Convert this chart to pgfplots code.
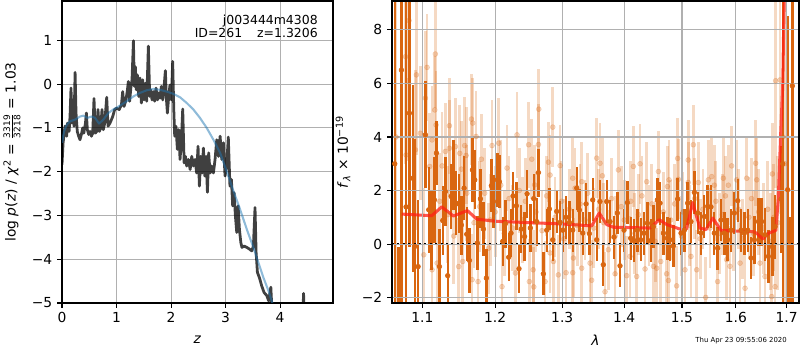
\documentclass[border=0pt]{standalone}
\usepackage{fontspec}
\setmainfont{DejaVu Sans}
\usepackage{pgfplots}
\usepackage{pgfplotstable}
\pgfplotsset{compat=1.18}
\definecolor{dkor}{RGB}{217,102,16}
\definecolor{gridc}{HTML}{B0B0B0}
\definecolor{pzblue}{RGB}{31,119,180}
\definecolor{modred}{RGB}{255,30,20}

\pgfplotstableread{
x y
0 -1.84
0.02 -1.34
0.055 -0.96
0.086 -1.19
0.10 -0.89
0.13 -1.08
0.147 -0.74
0.165 -0.09
0.183 -0.89
0.20 -0.36
0.22 -0.96
0.24 0.27
0.257 -0.66
0.28 -1.08
0.306 -1.19
0.33 -1.27
0.355 -1.15
0.38 -1.00
0.40 -1.12
0.43 -0.89
0.447 -0.66
0.465 -1.04
0.49 -1.15
0.514 -1.08
0.54 -1.19
0.563 -1.12
0.587 -0.33
0.61 -1.12
0.636 -1.08
0.66 -0.58
0.685 -1.08
0.71 -1.00
0.734 -0.58
0.758 -1.04
0.783 -0.89
0.82 -0.30
0.844 -0.96
0.88 -0.89
0.93 -0.74
0.966 -0.58
1.00 -0.55
1.05 -0.58
1.09 -0.47
1.113 -0.17
1.138 -0.51
1.174 -0.36
1.20 -0.13
1.217 0.06
1.24 -0.39
1.266 -0.05
1.284 0.10
1.31 0.99
1.327 -0.05
1.345 0.40
1.364 -0.13
1.382 0.21
1.407 -0.28
1.43 0.14
1.456 -0.43
1.48 0.10
1.505 -0.36
1.53 0.02
1.553 -0.39
1.584 0.87
1.608 -0.28
1.627 -0.13
1.651 -0.36
1.676 -0.17
1.70 -0.39
1.725 -0.09
1.75 -0.36
1.774 -0.20
1.798 -0.32
1.823 -0.05
1.847 -0.36
1.87 -0.09
1.896 0.31
1.914 -0.32
1.933 -0.66
1.957 -0.28
1.98 -0.02
2.006 -0.36
2.03 0.52
2.05 -0.58
2.067 -1.19
2.09 -0.96
2.116 -1.49
2.14 -1.04
2.165 -1.72
2.19 -1.27
2.214 -0.57
2.24 -1.80
2.263 -1.65
2.287 -1.87
2.318 -1.72
2.35 -1.95
2.38 -1.65
2.41 -1.87
2.44 -1.72
2.47 -2.03
2.495 -1.42
2.52 -2.33
2.544 -1.65
2.57 -2.03
2.593 -1.46
2.618 -2.10
2.642 -1.65
2.667 -2.47
2.69 -1.57
2.716 -2.03
2.74 -1.87
2.777 -2.03
2.807 -1.72
2.838 -1.27
2.87 -1.65
2.90 -1.19
2.93 -1.72
2.96 -1.34
2.99 -2.10
3.02 -1.87
3.05 -1.21
3.08 -2.33
3.107 -2.18
3.13 -2.78
3.156 -2.48
3.18 -3.01
3.205 -3.39
3.23 -2.78
3.254 -3.32
3.28 -3.62
3.30 -3.73
3.34 -3.70
3.39 -3.73
3.44 -3.77
3.48 -3.81
3.51 -3.70
3.54 -2.82
3.56 -3.85
3.584 -4.30
3.62 -4.42
3.663 -4.61
3.706 -4.76
3.755 -4.83
3.79 -4.95
3.83 -4.64
3.85 -5.14
3.88 -5.5
}\pzdata

\pgfplotstableread{
x y
0 -1.34
0.037 -1.08
0.086 -0.93
0.147 -0.85
0.24 -0.81
0.33 -0.74
0.39 -0.72
0.465 -0.77
0.544 -0.74
0.606 -0.77
0.68 -0.90
0.758 -0.81
0.85 -0.66
0.94 -0.58
1.064 -0.49
1.187 -0.39
1.31 -0.28
1.43 -0.20
1.553 -0.14
1.676 -0.11
1.80 -0.13
1.92 -0.17
2.04 -0.22
2.165 -0.30
2.287 -0.43
2.41 -0.58
2.53 -0.77
2.654 -1.00
2.777 -1.27
2.90 -1.57
3.02 -1.99
3.144 -2.44
3.266 -2.86
3.39 -3.32
3.51 -3.73
3.60 -4.07
3.694 -4.42
3.786 -4.72
3.847 -4.95
3.88 -5.10
}\pzsmooth

\pgfplotstableread{
x y e
1.0643 3.0 20
1.0690 -3.5 3.4
1.0728 6.5 10
1.0788 1.39 8
1.0831 4.89 5
1.0874 2.46 3.5
1.0900 -0.09 4
1.0944 -0.84 2.5
1.1040 4.08 2.0
1.1084 1.28 1.6
1.1119 0.53 1.5
1.1159 1.65 1.6
1.1186 3.40 1.2
1.1226 -0.84 1.4
1.1271 0.88 1.3
1.1307 1.96 1.3
1.1338 -1.18 1.2
1.1384 1.78 1.2
1.1415 2.59 1.3
1.1452 1.53 1.2
1.1488 1.50 1.1
1.1525 0.71 1.1
1.1562 2.09 1.2
1.1599 0.37 1.0
1.1636 -0.61 1.2
1.1678 2.77 1.2
1.1710 2.40 1.1
1.1747 0.04 1.0
1.1790 1.69 1.1
1.1832 0.56 1.0
1.1874 -1.27 1.1
1.1945 2.18 1.0
1.1974 1.59 1.0
1.2031 2.40 1.0
1.2060 2.33 1.0
1.2108 0.10 0.9
1.2147 0.76 0.9
1.2195 -0.49 0.9
1.2229 0.41 0.9
1.2258 1.80 0.9
1.2307 1.43 0.9
1.2346 -0.92 0.9
1.2380 0.56 0.9
1.2429 0.28 0.9
1.2466 1.88 0.9
1.2515 0.60 0.9
1.2565 1.70 0.9
1.2610 0.84 0.9
1.2636 2.67 0.9
1.2711 -1.11 0.8
1.2762 0.52 0.8
1.2803 1.31 0.8
1.2854 0.16 0.8
1.2915 1.22 0.8
1.2967 0.81 0.8
1.3008 0.52 0.8
1.3060 1.00 0.8
1.3112 0.81 0.8
1.3165 0.52 0.8
1.3228 2.09 0.8
1.3270 1.27 0.8
1.3323 0.41 0.8
1.3376 1.50 0.8
1.3429 0.39 0.8
1.3483 1.65 0.8
1.3547 0.16 0.8
1.3601 1.59 0.8
1.3655 -0.77 0.8
1.3710 1.59 0.8
1.3765 0.84 0.8
1.3831 0.26 0.8
1.3886 1.16 0.8
1.3930 -0.81 0.8
1.3997 0.52 0.8
1.4053 1.55 0.8
1.4109 0.22 0.8
1.4165 0.13 0.8
1.4222 0.52 0.8
1.4279 0.16 0.8
1.4336 0.41 0.8
1.4393 0.78 0.8
1.4451 0.13 0.8
1.4497 0.65 0.8
1.4566 1.65 0.8
1.4613 1.53 0.8
1.4671 0.41 0.8
1.4741 0.22 0.8
1.4787 0.16 0.8
1.4847 -0.07 0.8
1.4924 1.68 0.8
1.4983 0.41 0.8
1.5043 0.52 0.8
1.5103 1.53 0.8
1.5163 0.84 0.8
1.5224 1.93 0.8
1.5285 1.16 0.8
1.5346 0.41 0.8
1.5407 1.03 0.8
1.5468 1.41 0.8
1.5530 1.39 0.8
1.5592 0.41 0.8
1.5654 -0.15 0.8
1.5717 0.90 0.8
1.5780 0.41 0.8
1.5843 0.16 0.8
1.5906 0.52 0.8
1.5970 1.16 0.8
1.6034 1.62 0.8
1.6098 0.52 0.8
1.6162 0.41 0.8
1.6227 0.52 0.8
1.6291 -0.52 0.8
1.6356 0.16 0.9
1.6434 0.84 0.9
1.6500 0.84 0.9
1.6565 0.35 1.0
1.6631 -0.46 1.0
1.6711 -0.10 1.1
1.6764 0.65 1.2
1.6885 1.68 2.0
1.6920 3.0 12
1.7020 2.03 6.5
1.7070 -4.0 5.0
1.7115 5.91 12
}\darkdata

\pgfplotstableread{
x y e
1.0660 4.0 8
1.0781 7.00 4
1.0826 8.35 3
1.0817 6.10 3
1.0788 3.33 3.5
1.0909 3.52 3
1.0922 6.32 3
1.0974 4.14 2.5
1.1018 -0.40 2.5
1.1040 5.45 2.5
1.1062 6.60 2
1.1097 2.90 2
1.1128 3.89 2
1.1128 -0.96 2
1.1164 5.01 2
1.1172 7.10 2
1.1181 4.45 2
1.1195 -0.71 2
1.1230 1.60 1.8
1.1262 2.92 2
1.1307 3.46 1.8
1.1340 1.10 1.8
1.1361 4.42 1.8
1.1361 3.58 1.8
1.1420 0.30 1.8
1.1443 3.64 1.8
1.1488 -0.84 1.8
1.1502 3.39 1.8
1.1525 2.80 1.8
1.1543 -0.65 1.8
1.1571 3.68 1.8
1.1590 3.31 1.8
1.1600 1.90 1.8
1.1664 4.67 1.7
1.1673 -1.33 1.7
1.1682 4.52 1.7
1.1700 0.80 1.7
1.1729 4.02 1.7
1.1757 -1.40 1.7
1.1780 1.40 1.7
1.1804 3.17 1.7
1.1850 1.90 1.7
1.1907 -0.15 1.7
1.1930 0.90 1.7
1.1955 3.68 1.7
1.2000 1.20 1.7
1.2050 3.77 1.7
1.2080 2.20 1.7
1.2098 -1.59 1.7
1.2130 0.40 1.6
1.2171 2.84 1.6
1.2200 1.70 1.6
1.2250 0.60 1.6
1.2293 -1.08 1.6
1.2317 4.08 1.6
1.2350 2.00 1.6
1.2400 0.90 1.6
1.2440 1.60 1.6
1.2489 3.71 1.6
1.2499 -1.40 1.6
1.2536 3.17 1.5
1.2557 -0.96 1.5
1.2566 -1.60 1.5
1.2578 2.21 1.5
1.2600 1.20 1.5
1.2636 3.72 1.5
1.2641 5.04 1.5
1.2690 0.50 1.5
1.2737 -1.40 1.5
1.2760 1.80 1.5
1.2788 3.06 1.5
1.2813 2.58 1.5
1.2813 -0.33 1.5
1.2854 4.37 1.5
1.2864 -0.65 1.5
1.2890 1.00 1.5
1.2941 -1.15 1.5
1.2967 2.93 1.5
1.2990 1.60 1.5
1.3030 0.20 1.5
1.3060 -1.07 1.5
1.3110 1.30 1.5
1.3165 2.46 1.5
1.3165 -1.07 1.5
1.3175 -0.52 1.5
1.3202 2.09 1.5
1.3240 0.70 1.5
1.3280 1.50 1.5
1.3307 2.33 1.5
1.3307 -0.90 1.5
1.3360 0.90 1.5
1.3400 1.90 1.5
1.3440 -0.71 1.5
1.3467 -1.35 1.5
1.3500 0.60 1.5
1.3547 3.21 1.5
1.3580 1.30 1.5
1.3601 3.02 1.5
1.3639 2.55 1.5
1.3660 0.80 1.5
1.3683 -1.78 1.5
1.3737 -0.21 1.5
1.3790 1.70 1.5
1.3848 -1.11 1.5
1.3850 0.30 1.5
1.3903 2.77 1.5
1.3950 1.40 1.5
1.4000 0.90 1.5
1.4042 -1.18 1.5
1.4098 -0.46 1.5
1.4110 1.60 1.5
1.4154 2.90 1.5
1.4180 0.40 1.5
1.4211 -1.21 1.5
1.4240 1.10 1.5
1.4268 3.00 1.5
1.4300 1.80 1.5
1.4353 -0.93 1.5
1.4382 2.33 1.5
1.4420 0.70 1.5
1.4470 1.50 1.5
1.4497 -0.83 1.5
1.4530 0.10 1.5
1.4555 -0.90 1.5
1.4584 2.71 1.5
1.4625 -0.65 1.5
1.4670 1.20 1.5
1.4729 -1.11 1.5
1.4741 2.15 1.5
1.4760 -1.36 1.5
1.4770 2.40 1.5
1.4800 0.90 1.5
1.4870 1.50 1.5
1.4906 -1.56 1.5
1.4924 3.20 1.5
1.4936 2.42 1.5
1.4990 0.30 1.5
1.5020 1.20 1.5
1.5055 -0.96 1.5
1.5113 3.14 1.5
1.5113 2.30 1.5
1.5140 0.70 1.5
1.5163 -0.46 1.5
1.5206 3.71 1.5
1.5230 1.70 1.5
1.5267 -0.96 1.5
1.5297 2.30 1.5
1.5330 0.20 1.5
1.5380 1.30 1.5
1.5432 -1.99 1.5
1.5481 2.40 1.5
1.5510 0.60 1.5
1.5543 2.52 1.5
1.5592 2.20 1.5
1.5620 1.60 1.5
1.5654 -1.40 1.5
1.5690 0.40 1.5
1.5740 1.10 1.5
1.5761 2.46 1.5
1.5800 1.80 1.5
1.5824 -0.58 1.5
1.5856 2.20 1.5
1.5887 -0.83 1.5
1.5919 2.92 1.5
1.5950 0.50 1.5
1.6015 2.40 1.5
1.6050 1.30 1.5
1.6079 -0.71 1.5
1.6130 0.20 1.5
1.6175 -1.65 1.5
1.6207 2.46 1.5
1.6250 1.00 1.5
1.6300 1.70 1.5
1.6340 0.40 1.6
1.6382 3.02 1.6
1.6402 2.40 1.6
1.6440 1.20 1.6
1.6467 -0.71 1.7
1.6530 0.60 1.7
1.6565 -1.21 1.7
1.6620 1.30 1.8
1.6680 0.10 1.8
1.6698 -1.96 1.9
1.6711 2.62 1.9
1.6740 1.00 2.0
1.6764 -1.59 2.0
1.6777 6.10 4
1.6820 0.80 2.5
1.6865 6.13 5
1.6925 4.0 9
1.6960 3.0 8
}\lightdata

\pgfplotstableread{
x y
1.0733 1.12
1.1124 1.06
1.1257 1.39
1.1415 1.05
1.1608 1.25
1.1739 0.93
1.2023 0.85
1.3017 0.75
1.3467 0.68
1.3589 1.16
1.3710 0.73
1.3820 0.63
1.4440 0.60
1.4600 0.91
1.4730 0.73
1.4966 0.56
1.5082 0.56
1.5193 1.55
1.5325 0.60
1.5437 0.54
1.5564 0.97
1.5717 0.51
1.6335 0.46
1.6400 0.41
1.6520 0.19
1.6640 0.41
1.6780 0.51
1.6830 1.65
1.6880 4.14
1.6920 6.00
1.6940 8.20
1.6960 10.0
}\modeldata

\pgfplotsset{
  mpl/.style={
    scale only axis, anchor=south west,
    tick align=outside, major tick length=3.5pt,
    xtick pos=bottom, ytick pos=left,
    grid=major, major grid style={gridc, line width=0.8pt},
    axis line style={line width=0.8pt},
    every tick/.style={black, line width=0.8pt},
    tick label style={font=\fontsize{10}{12}\selectfont},
    label style={font=\fontsize{10}{12}\selectfont},
    minor tick num=0,
  }
}

\begin{document}
\begin{tikzpicture}
\path[use as bounding box] (0,0) rectangle (578.16pt,252.95pt);

% left panel
\begin{axis}[mpl,
  at={(44.81pt,33.97pt)}, width=195.85pt, height=218.26pt,
  xmin=0, xmax=4.97, ymin=-5, ymax=1.9,
  xtick={0,1,2,3,4}, xticklabels={0,1,2,3,4},
  ytick={-5,-4,-3,-2,-1,0,1}, yticklabels={−5,−4,−3,−2,−1,0,1},
  xlabel={\textit{z}},
  ylabel={log \textit{p}(\textit{z}) / \textit{χ}\textsuperscript{2} = $\frac{\hbox{\fontsize{6.5}{7}\selectfont 3319}}{\hbox{\fontsize{6.5}{7}\selectfont 3218}}$ = 1.03},
  xlabel style={at={(axis description cs:0.5,-0.1225)}, anchor=center},
  ylabel style={at={(axis description cs:-0.1845,0.5)}, anchor=center},
]
\addplot[black, opacity=0.75, line width=2pt, line join=round] table[x=x,y=y] {\pzdata};
\addplot[black, opacity=0.75, line width=2pt, line join=round] coordinates {(4.40,-6) (4.43,-4.78) (4.46,-6)};
\addplot[pzblue, opacity=0.5, line width=1.5pt, line join=round] table[x=x,y=y] {\pzsmooth};
\node[anchor=base east, inner sep=0pt, font=\fontsize{9}{10}\selectfont] at (axis description cs:0.9446,0.9238) {j003444m4308};
\node[anchor=base east, inner sep=0pt, font=\fontsize{9}{10}\selectfont] at (axis description cs:0.9446,0.8775) {ID=261\hspace{1.2em}z=1.3206};
\end{axis}

% right panel
\begin{axis}[mpl,
  at={(283.30pt,33.97pt)}, width=294.14pt, height=218.26pt,
  xmode=log, xmin=1.0608, xmax=1.7253, ymin=-2.2, ymax=9.08,
  xtick={1.1,1.2,1.3,1.4,1.5,1.6,1.7}, xticklabels={1.1,1.2,1.3,1.4,1.5,1.6,1.7},
  minor xtick={},
  ytick={-2,0,2,4,6,8}, yticklabels={−2,0,2,4,6,8},
  axis on top,
  xlabel={\textit{λ}},
  ylabel={\textit{f}\textsubscript{\textit{λ}} × 10\textsuperscript{−19}},
  xlabel style={at={(axis description cs:0.5,-0.1225)}, anchor=center},
  ylabel style={at={(axis description cs:-0.1204,0.5)}, anchor=center},
]
\addplot[only marks, mark=*, mark size=1.8pt, dkor, opacity=0.25,
  error bars/.cd, y dir=both, y explicit, error mark=none,
  error bar style={line width=2pt, opacity=0.25}]
  table[x=x, y=y, y error=e] {\lightdata};
\addplot[only marks, mark=*, mark size=1.7pt, dkor,
  error bars/.cd, y dir=both, y explicit, error mark=none,
  error bar style={line width=1.7pt}]
  table[x=x, y=y, y error=e] {\darkdata};
\addplot[black, line width=1.5pt, dash pattern=on 1.5pt off 2.4pt] coordinates {(1.0608,0) (1.7253,0)};
\addplot[modred, opacity=0.75, line width=2.2pt, line join=round] table[x=x,y=y] {\modeldata};
\end{axis}

\node[anchor=base east, inner sep=0pt, font=\fontsize{5}{6}\selectfont] at (568.76pt,5.78pt) {Thu Apr 23 09:55:06 2020};
\end{tikzpicture}
\end{document}
